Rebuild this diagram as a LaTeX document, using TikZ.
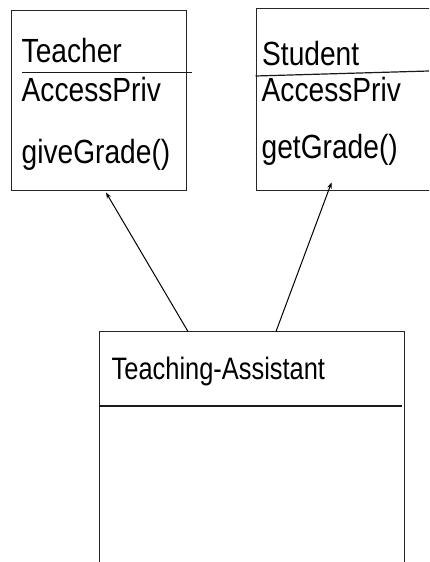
\documentclass[tikz,border=0pt]{standalone}
\usepackage{fontspec}
\setmainfont{Liberation Sans}
\usetikzlibrary{arrows.meta}
\begin{document}
\begin{tikzpicture}[x=1pt,y=-1pt,
  box/.style={draw=black!85,line width=1.2pt,inner sep=0pt,anchor=north west},
  sep/.style={draw=black!90,line width=1.2pt},
  lbl/.style={anchor=base west,inner sep=0pt,font=\fontsize{33.5}{34}\selectfont},
  lblb/.style={anchor=base west,inner sep=0pt,font=\fontsize{31}{31}\selectfont},
  inh/.style={-{Stealth[length=6pt,width=4.5pt]},line width=1pt}]
\useasboundingbox (0,0) rectangle (429,562);
\clip (0,0) rectangle (429,562);
% boxes
\node[box,minimum width=175.5pt,minimum height=180.5pt] (teacher) at (10.5,9.5) {};
\node[box,minimum width=185pt,minimum height=182pt] (student) at (255.5,7.5) {};
\node[box,minimum width=305pt,minimum height=270pt] (ta) at (99,331) {};
% dividers
\draw[sep] (22,72.5) -- (192,72.5);
\draw[sep] (255.5,76) -- (429,71);
\draw[sep] (99,406) -- (402,406);
% labels
\node[lbl] (tname) at (21.5,62) {\scalebox{0.84}[1]{Teacher}};
\node[lbl] (tattr) at (21.5,101.5) {\scalebox{0.84}[1]{AccessPriv}};
\node[lbl] (tmeth) at (21.5,163) {\scalebox{0.84}[1]{giveGrade()}};
\node[lbl] (sname) at (262,65) {\scalebox{0.84}[1]{Student}};
\node[lbl] (sattr) at (261.5,101.5) {\scalebox{0.84}[1]{AccessPriv}};
\node[lbl] (smeth) at (261.5,158) {\scalebox{0.84}[1]{getGrade()}};
\node[lblb] (taname) at (111.5,379) {\scalebox{0.82}[1]{Teaching-Assistant}};
% connectors
\coordinate (a1) at (188,331.5);
\coordinate (a2) at (276,331.5);
\coordinate (t1) at (106,192.5);
\coordinate (t2) at (331.5,182.5);
\draw[inh] (a1) -- (t1);
\draw[inh] (a2) -- (t2);
\end{tikzpicture}
\end{document}
